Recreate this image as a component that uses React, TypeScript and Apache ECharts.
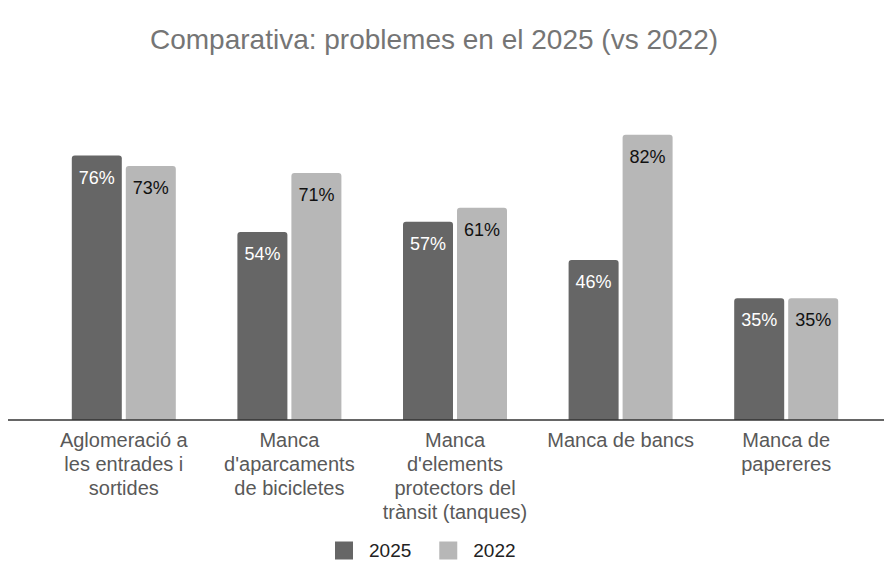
import React, { useEffect, useRef } from "react";
import * as echarts from "echarts";

const categories = [
  "Aglomeració a\nles entrades i\nsortides",
  "Manca\nd'aparcaments\nde bicicletes",
  "Manca\nd'elements\nprotectors del\ntrànsit (tanques)",
  "Manca de bancs",
  "Manca de\npapereres",
];
const values2025 = [76, 54, 57, 46, 35];
const values2022 = [73, 71, 61, 82, 35];
const seriesNames = ["2025", "2022"];

export default function App() {
  const ref = useRef<HTMLDivElement>(null);
  useEffect(() => {
    if (!ref.current) return;
    const chart = echarts.init(ref.current, null, { renderer: "svg" });
    const font = "'Liberation Sans', Arial, sans-serif";
    chart.setOption({
      animation: false,
      backgroundColor: "#ffffff",
      textStyle: { fontFamily: font },
      title: {
        text: "Comparativa: problemes en el 2025 (vs 2022)",
        left: 150,
        top: 25,
        padding: 0,
        textStyle: { color: "#757575", fontSize: 28, fontWeight: "normal", fontFamily: font },
      },
      legend: {
        data: seriesNames,
        bottom: 1,
        left: 330,
        itemWidth: 18,
        itemHeight: 18,
        itemGap: 28,
        icon: "rect",
        textStyle: { color: "#222222", fontSize: 19, fontFamily: font, padding: [0, 0, 0, 11] },
      },
      grid: { left: 41, right: 15, top: 72, bottom: 146, containLabel: false },
      xAxis: {
        type: "category",
        data: categories,
        axisLine: { show: false },
        axisTick: { show: false },
        axisLabel: {
          interval: 0,
          color: "#595959",
          fontSize: 20,
          lineHeight: 24,
          margin: 8,
          fontFamily: font,
          verticalAlign: "top",
        },
      },
      yAxis: {
        type: "value",
        min: 0,
        max: 100,
        show: false,
        splitLine: { show: false },
      },
      graphic: [
        {
          type: "line",
          shape: { x1: 8, y1: 420, x2: 884, y2: 420 },
          style: { stroke: "#333333", lineWidth: 1.5 },
          z: 10,
        },
      ],
      series: [
        {
          name: seriesNames[0],
          type: "bar",
          data: values2025,
          barWidth: 50,
          barGap: "8%",
          itemStyle: { color: "#666666", borderRadius: [3, 3, 0, 0] },
          label: {
            show: true,
            position: "insideTop",
            distance: 13,
            formatter: "{c}%",
            color: "#ffffff",
            fontSize: 18,
            fontFamily: font,
          },
        },
        {
          name: seriesNames[1],
          type: "bar",
          data: values2022,
          barWidth: 50,
          itemStyle: { color: "#b7b7b7", borderRadius: [3, 3, 0, 0] },
          label: {
            show: true,
            position: "insideTop",
            distance: 13,
            formatter: "{c}%",
            color: "#111111",
            fontSize: 18,
            fontFamily: font,
          },
        },
      ],
    });
    return () => chart.dispose();
  }, []);
  return <div ref={ref} style={{ width: 884, height: 566, position: "absolute", left: 0, top: 0 }} />;
}
